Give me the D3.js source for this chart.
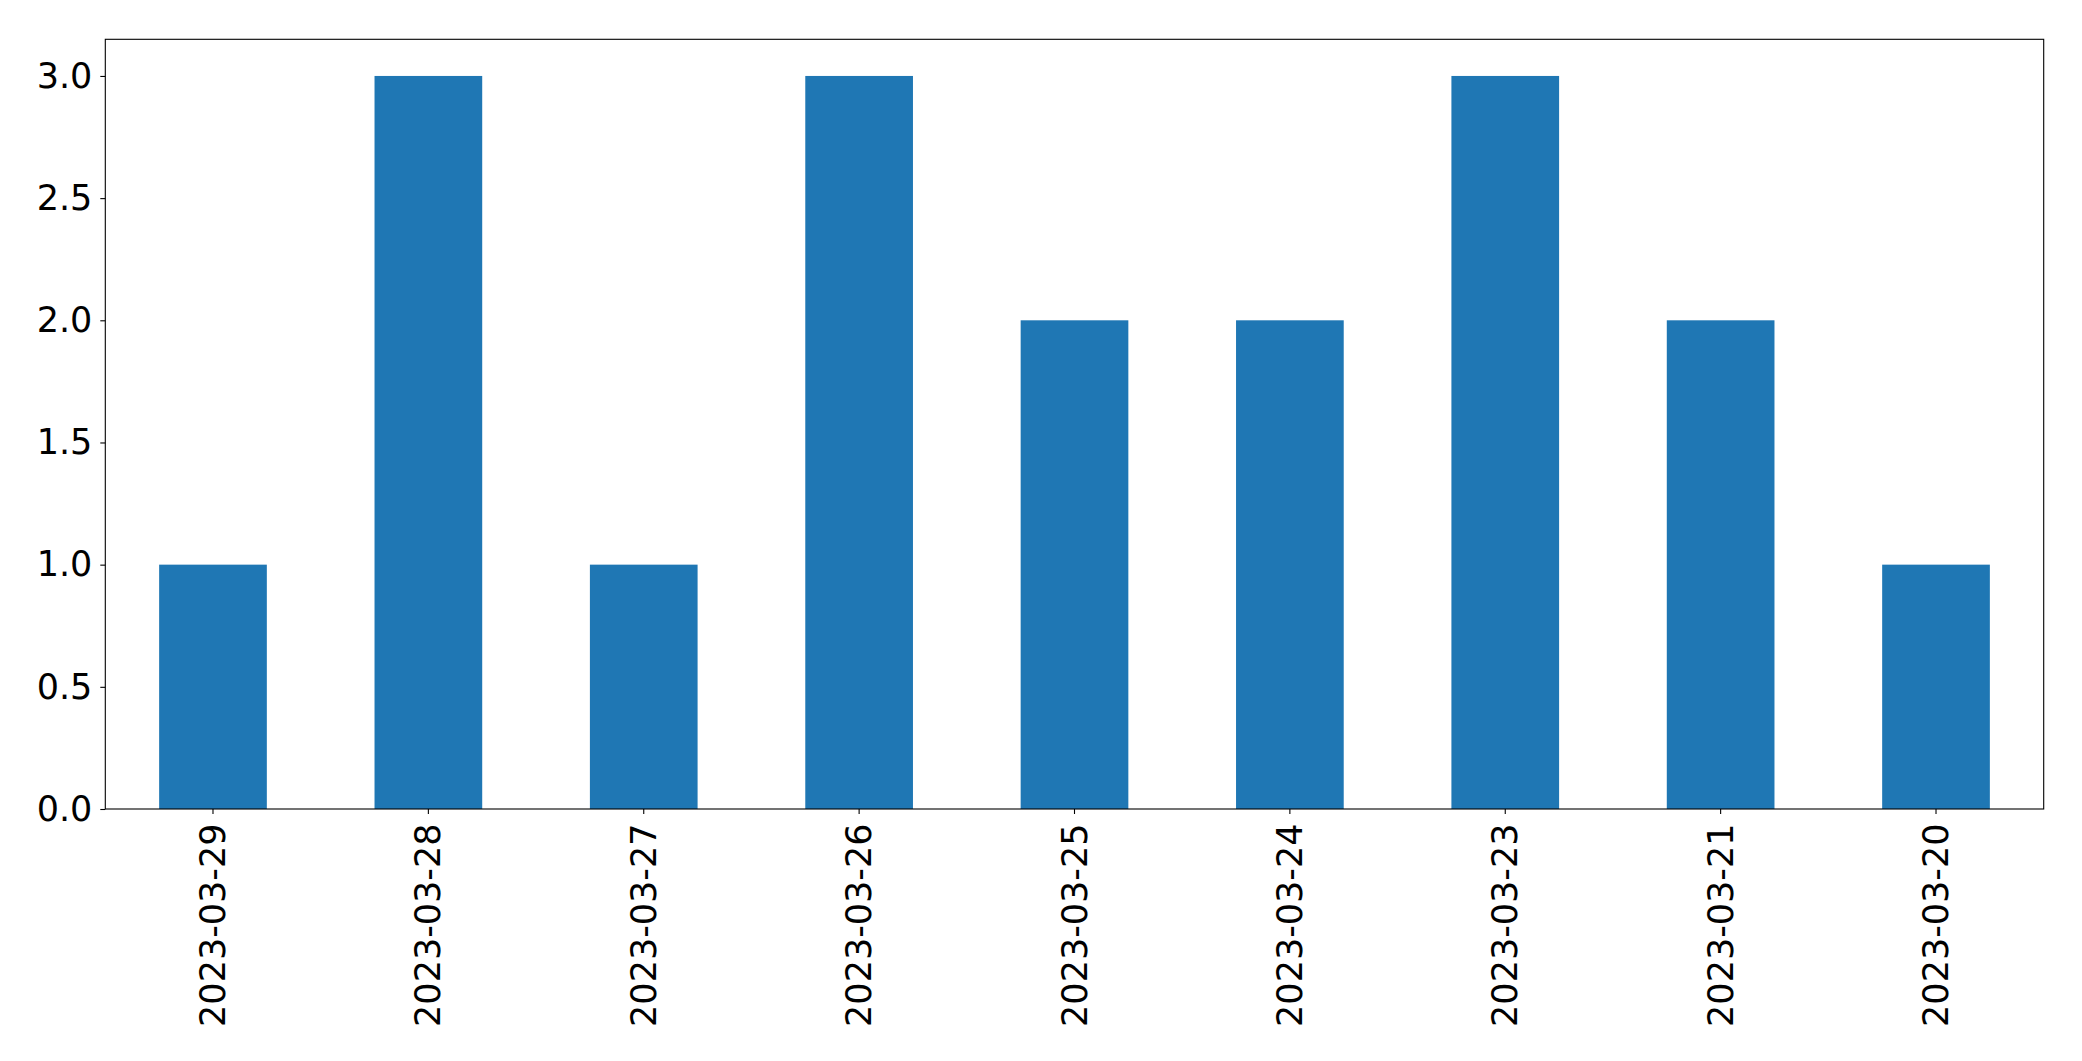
<!DOCTYPE html>
<html>
<head>
<meta charset="utf-8">
<script src="https://cdn.jsdelivr.net/npm/d3@7"></script>
<style>
html,body{margin:0;padding:0;background:#fff;}
svg{display:block;}
text{font-family:"DejaVu Sans",sans-serif;fill:#000;}
</style>
</head>
<body>
<svg id="chart" width="2082" height="1061"></svg>
<script>
const categories = ["2023-03-29","2023-03-28","2023-03-27","2023-03-26","2023-03-25","2023-03-24","2023-03-23","2023-03-21","2023-03-20"];
const values = [1,3,1,3,2,2,3,2,1];
const yTicks = [0,0.5,1.0,1.5,2.0,2.5,3.0];

const W = 2082, H = 1061;
const m = {left:105.3, right:2043.7, top:39.3, bottom:809};
const svg = d3.select("#chart");
const FS = "35px";

const x = d3.scaleLinear().domain([-0.5, categories.length - 0.5]).range([m.left, m.right]);
const y = d3.scaleLinear().domain([0, d3.max(values) * 1.05]).range([m.bottom, m.top]);
const barW = 0.5;

svg.append("g").selectAll("rect").data(values).join("rect")
  .attr("x", (d,i) => x(i - barW/2))
  .attr("width", (d,i) => x(i + barW/2) - x(i - barW/2))
  .attr("y", d => y(d))
  .attr("height", d => y(0) - y(d))
  .attr("fill", "#1f77b4");

// frame
svg.append("rect")
  .attr("x", m.left).attr("y", m.top)
  .attr("width", m.right - m.left).attr("height", m.bottom - m.top)
  .attr("fill", "none").attr("stroke", "#000").attr("stroke-width", 1.1);

// y axis
const yAxis = d3.axisLeft(y).tickValues(yTicks).tickFormat(d3.format(".1f")).tickSize(5).tickPadding(8);
const gy = svg.append("g").attr("transform", `translate(${m.left},0)`).call(yAxis);
gy.select(".domain").remove();
gy.selectAll(".tick line").attr("stroke", "#000").attr("stroke-width", 1.1);
gy.selectAll(".tick text").attr("font-size", FS).attr("font-family", "DejaVu Sans").attr("fill", "#000");

// x axis
const xb = d3.scaleBand().domain(categories).range([x(-0.5), x(categories.length - 0.5)]);
const xAxis = d3.axisBottom(xb).tickSize(5).tickPadding(0);
const gx = svg.append("g").attr("transform", `translate(0,${m.bottom})`).call(xAxis);
gx.select(".domain").remove();
gx.selectAll(".tick line").attr("stroke", "#000").attr("stroke-width", 1.1);
gx.selectAll(".tick text")
  .attr("font-size", FS).attr("font-family", "DejaVu Sans").attr("fill", "#000")
  .attr("text-anchor", "end")
  .attr("dy", null)
  .attr("y", 0)
  .attr("dominant-baseline", "central")
  .attr("transform", "translate(0,14.5) rotate(-90)");
</script>
</body>
</html>
